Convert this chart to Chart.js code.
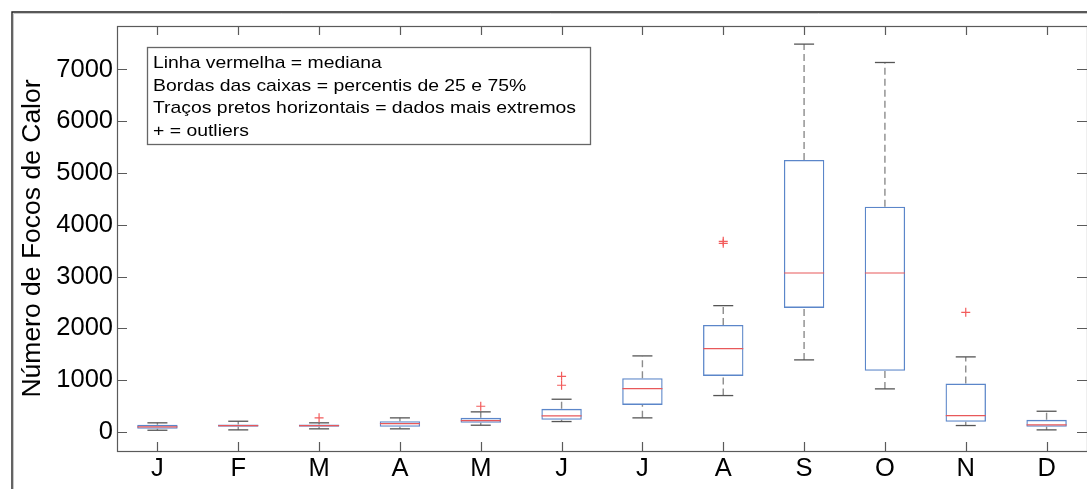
<!DOCTYPE html>
<html>
<head>
<meta charset="utf-8">
<script src="https://cdn.jsdelivr.net/npm/chart.js@4.4.1/dist/chart.umd.min.js"></script>
<style>
  html, body { margin: 0; padding: 0; background: #fff; }
  #wrap { position: relative; width: 1087px; height: 489px; }
</style>
</head>
<body>
<div id="wrap"><canvas id="myChart" width="1087" height="489"></canvas></div>
<script>
// months (x categories)
let months = ['J', 'F', 'M', 'A', 'M', 'J', 'J', 'A', 'S', 'O', 'N', 'D'];
// box stats
let lowWhisker = [31, 38, 58, 58, 128, 199, 270, 701, 1390, 830, 122, 38];
let q1 = [58, 97, 97, 97, 174, 232, 521, 1081, 2394, 1178, 193, 97];
let medians = [97, 122, 122, 160, 218, 309, 836, 1608, 3069, 3069, 315, 135];
let q3 = [135, 141, 141, 205, 270, 444, 1035, 2066, 5251, 4349, 932, 232];
let highWhisker = [174, 205, 174, 270, 386, 630, 1467, 2438, 7490, 7135, 1448, 398];
// outliers: month index (1-based) and value
let outlierMonth = [3, 5, 6, 6, 8, 8, 11];
let outlierValue = [270, 494, 900, 1073, 3641, 3680, 2309];
let yTicks = [0, 1000, 2000, 3000, 4000, 5000, 6000, 7000];
let legendLines = [
    'Linha vermelha = mediana',
    'Bordas das caixas = percentis de 25 e 75%',
    'Traços pretos horizontais = dados mais extremos',
    '+ = outliers'
];

let boxData = months.map((m, i) => ({x: i + 1, y: [q1[i], q3[i]]}));
let medianData = months.map((m, i) => ({x: i + 1, y: medians[i]}));
let capData = [];
let whiskerData = [];
months.forEach(function(m, i) {
    capData.push({x: i + 1, y: highWhisker[i]}, {x: i + 1, y: lowWhisker[i]});
    whiskerData.push({x: i + 1, y: q3[i]}, {x: i + 1, y: highWhisker[i]}, {x: i + 1, y: null});
    whiskerData.push({x: i + 1, y: lowWhisker[i]}, {x: i + 1, y: q1[i]}, {x: i + 1, y: null});
});
let outlierData = outlierMonth.map((m, i) => ({x: m, y: outlierValue[i]}));

// figure frame, axes box with inward ticks, text box
const framePlugin = {
    id: 'frame',
    beforeDraw(chart) {
        const ctx = chart.ctx;
        ctx.save();
        ctx.fillStyle = '#fff';
        ctx.fillRect(0, 0, chart.width, chart.height);
        ctx.strokeStyle = '#c8c8c8';
        ctx.lineWidth = 1;
        ctx.beginPath();
        ctx.moveTo(13.5, chart.height); ctx.lineTo(13.5, 13.5); ctx.lineTo(chart.width, 13.5);
        ctx.stroke();
        ctx.strokeStyle = '#222';
        ctx.lineWidth = 1.4;
        ctx.beginPath();
        ctx.moveTo(12, chart.height); ctx.lineTo(12, 12); ctx.lineTo(chart.width, 12);
        ctx.stroke();
        ctx.restore();
    },
    afterDraw(chart) {
        const ctx = chart.ctx;
        const a = chart.chartArea;
        const xs = chart.scales.x, ys = chart.scales.y;
        ctx.save();
        ctx.strokeStyle = '#5a5a5a';
        ctx.lineWidth = 1.2;
        ctx.strokeRect(a.left + 0.5, a.top + 0.5, a.right - a.left, a.bottom - a.top);
        ctx.beginPath();
        xs.ticks.forEach(function(t) {
            let px = Math.round(xs.getPixelForValue(t.value)) + 0.5;
            ctx.moveTo(px, a.bottom); ctx.lineTo(px, a.bottom - 9);
            ctx.moveTo(px, a.top); ctx.lineTo(px, a.top + 9);
        });
        ys.ticks.forEach(function(t) {
            let py = Math.round(ys.getPixelForValue(t.value)) + 0.5;
            ctx.moveTo(a.left, py); ctx.lineTo(a.left + 10, py);
            ctx.moveTo(a.right, py); ctx.lineTo(a.right - 10, py);
        });
        ctx.stroke();

        // text box
        ctx.fillStyle = '#fff';
        ctx.fillRect(147.5, 47.5, 443, 97);
        ctx.strokeStyle = '#666';
        ctx.lineWidth = 1.3;
        ctx.strokeRect(147.5, 47.5, 443, 97);
        ctx.fillStyle = '#000';
        ctx.font = '17px "Liberation Sans", Arial, sans-serif';
        ctx.textBaseline = 'alphabetic';
        let widest = Math.max.apply(null, legendLines.map(l => ctx.measureText(l).width));
        let sx = 423 / widest;
        legendLines.forEach(function(line, i) {
            ctx.save();
            ctx.translate(153, 67.7 + i * 22.8);
            ctx.scale(sx, 1);
            ctx.fillText(line, 0, 0);
            ctx.restore();
        });
        ctx.restore();
    }
};

const tickFont = {family: '"Liberation Sans", Arial, sans-serif', size: 25.5};

new Chart(document.getElementById('myChart'), {
    data: {
        datasets: [
            {
                type: 'line', label: 'median', data: medianData, order: 0,
                showLine: false, pointStyle: 'line', pointRadius: 20, pointHoverRadius: 20,
                borderColor: '#e8585a', borderWidth: 1.2
            },
            {
                type: 'line', label: 'outliers', data: outlierData, order: 1,
                showLine: false, pointStyle: 'cross', pointRadius: 4.5, pointHoverRadius: 4.5,
                borderColor: '#f25c5c', borderWidth: 1.2
            },
            {
                type: 'bar', label: 'box', data: boxData, order: 2,
                backgroundColor: 'rgba(0,0,0,0)', borderColor: '#5b86c9', borderWidth: 1.3,
                borderSkipped: false, barPercentage: 0.5, categoryPercentage: 1
            },
            {
                type: 'line', label: 'caps', data: capData, order: 3,
                showLine: false, pointStyle: 'line', pointRadius: 10, pointHoverRadius: 10,
                borderColor: '#555', borderWidth: 1.3
            },
            {
                type: 'line', label: 'whiskers', data: whiskerData, order: 4,
                borderColor: '#8c8c8c', borderWidth: 1.4, borderDash: [7, 4],
                pointRadius: 0, spanGaps: false, fill: false
            }
        ]
    },
    options: {
        responsive: false,
        animation: false,
        devicePixelRatio: 1,
        layout: {autoPadding: false, padding: {top: 26, right: 0, left: 0, bottom: 0}},
        plugins: {legend: {display: false}, tooltip: {enabled: false}},
        scales: {
            x: {
                type: 'linear', min: 0.5, max: 12.5, offset: false,
                grid: {display: false, drawTicks: false},
                border: {display: false},
                afterBuildTicks: function(s) { s.ticks = months.map((m, i) => ({value: i + 1})); },
                afterFit: function(s) { s.height = 38; },
                ticks: {
                    font: tickFont, color: '#000', padding: 3, maxRotation: 0, autoSkip: false,
                    callback: function(v) { return months[v - 1]; }
                }
            },
            y: {
                min: -370, max: 7840,
                grid: {display: false, drawTicks: false},
                border: {display: false},
                afterBuildTicks: function(s) { s.ticks = yTicks.map(v => ({value: v})); },
                afterFit: function(s) { s.width = 117; },
                ticks: {
                    font: tickFont, color: '#000', padding: 4,
                    callback: function(v) { return String(v); }
                },
                title: {
                    display: true, text: 'Número de Focos de Calor', color: '#000',
                    font: {family: '"Liberation Sans", Arial, sans-serif', size: 26.5},
                    padding: {top: 16.6, bottom: 0}
                }
            }
        }
    },
    plugins: [framePlugin]
});
</script>
</body>
</html>
